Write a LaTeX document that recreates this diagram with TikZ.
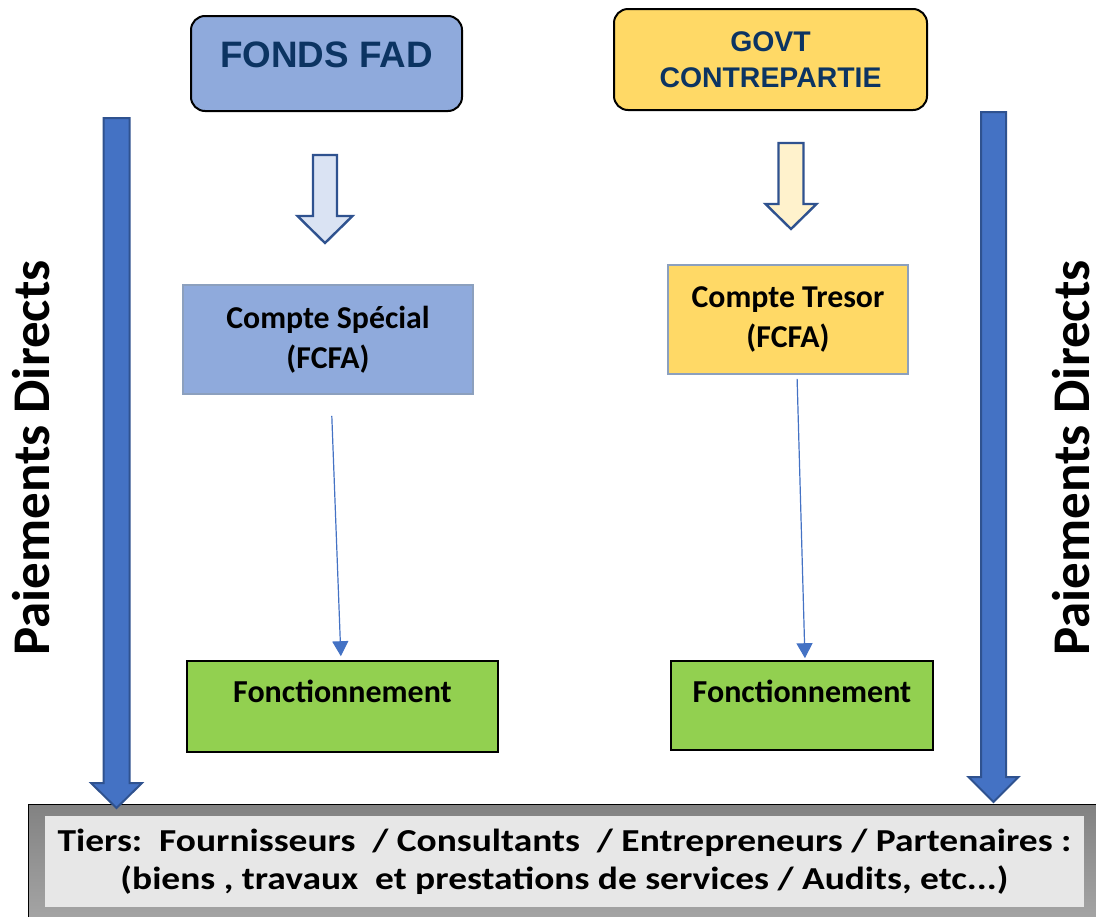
\documentclass[tikz,border=0pt]{standalone}
\usepackage{fontspec}
\setmainfont{Carlito}
\newfontfamily\arialfont{Liberation Sans}
\newfontfamily\tiersfont[FakeStretch=1.17]{Carlito}
\usetikzlibrary{arrows.meta}

\definecolor{bleufad}{RGB}{143,170,220}
\definecolor{jaunegov}{RGB}{255,217,102}
\definecolor{bleuclair}{RGB}{218,227,243}
\definecolor{jauneclair}{RGB}{255,242,204}
\definecolor{bordbleu}{RGB}{47,82,143}
\definecolor{bleufleche}{RGB}{68,114,196}
\definecolor{vertfonc}{RGB}{146,208,80}
\definecolor{marine}{RGB}{12,52,98}
\definecolor{bordcompte}{RGB}{140,160,190}
\definecolor{grisclair}{RGB}{231,231,231}
\definecolor{grishaut}{RGB}{130,130,130}
\definecolor{grisbas}{RGB}{165,165,165}

% cx, top, head base, tip, half shaft, half head, style
\newcommand{\flechebloc}[7]{%
  \draw[#7] ({#1-#5},#2) -- ({#1+#5},#2) -- ({#1+#5},#3) -- ({#1+#6},#3)
    -- (#1,#4) -- ({#1-#6},#3) -- ({#1-#5},#3) -- cycle;}

\begin{document}
\begin{tikzpicture}[x=0.5pt, y=-0.5pt, every node/.style={inner sep=0pt},
    source/.style={draw=black, line width=1pt, rounded corners=7pt, text=marine},
    compte/.style={draw=bordcompte, line width=0.8pt, align=center, minimum height=54.5pt,
      font=\fontsize{15.9}{20}\selectfont\bfseries},
    fonct/.style={draw=black, line width=0.8pt, fill=vertfonc, text height=20.5pt,
      font=\fontsize{16}{20}\selectfont\bfseries},
    paiement/.style={rotate=90, font=\fontsize{26.5}{30}\selectfont\bfseries},
    fine/.style={draw=bleufleche, line width=0.6pt, -{Triangle[length=7.5pt, width=8pt]}}]
\useasboundingbox (0,0) rectangle (1096,916);

\node[source, fill=bleufad, minimum width=135.5pt, text height=25.5pt, text depth=22pt,
  font=\arialfont\fontsize{18.4}{22}\selectfont\bfseries] (fad) at (326.5,63.5) {FONDS FAD};
\node[source, fill=jaunegov, minimum width=156.5pt, minimum height=50.5pt, align=center,
  font=\arialfont\fontsize{14.2}{18}\selectfont\bfseries] (gov) at (770.5,59.5) {GOVT\\CONTREPARTIE};

\node[compte, fill=bleufad, minimum width=145pt] (cs) at (328,339.5) {Compte Spécial\\(FCFA)};
\node[compte, fill=jaunegov, minimum width=120pt] (ct) at (788,319.5) {Compte Tresor\\(FCFA)};

\node[fonct, minimum width=155.5pt, text depth=25pt] (fl) at (342.5,706.5) {Fonctionnement};
\node[fonct, minimum width=131pt, text depth=24pt] (fr) at (802,705.5) {Fonctionnement};

\node[paiement] (pdg) at (31,458) {Paiements Directs};
\node[paiement] (pdd) at (1071,458) {Paiements Directs};

\node[draw=black, line width=0.5pt, top color=grishaut, bottom color=grisbas,
  minimum width=536pt, minimum height=58pt] (fond) at (564,862) {};
\node[fill=grisclair, minimum width=519.5pt, minimum height=45.5pt, align=center,
  font=\tiersfont\fontsize{16}{19}\selectfont\bfseries] (tiers) at (564.5,861.5)
  {Tiers:\ \ Fournisseurs\ \ / Consultants\ \ / Entrepreneurs / Partenaires :\\
   (biens , travaux\ \ et prestations de services / Audits, etc...)};

\flechebloc{325}{155}{216}{243}{12}{27.5}{fill=bleuclair, draw=bordbleu, line width=1.2pt}
\flechebloc{791}{143}{204}{229}{12.5}{25.5}{fill=jauneclair, draw=bordbleu, line width=1.2pt}
\flechebloc{116.5}{118}{783}{808}{13}{25.5}{fill=bleufleche, draw=bordbleu, line width=1pt}
\flechebloc{993.5}{112}{777}{802}{12.5}{25}{fill=bleufleche, draw=bordbleu, line width=1pt}

\foreach \from/\to/\a/\b/\s/\t in {cs/fl/1.5/-0.75/10.5/2, ct/fr/4.5/1.5/2/1}
    \draw[fine, shorten <=\s pt, shorten >=\t pt] ([xshift=\a pt]\from.south) -- ([xshift=\b pt]\to.north);
\end{tikzpicture}
\end{document}
